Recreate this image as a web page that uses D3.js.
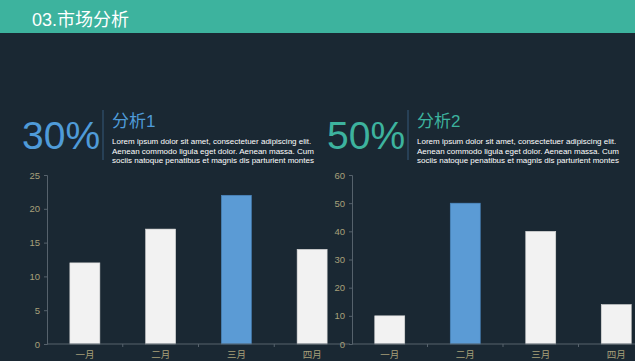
<!DOCTYPE html>
<html>
<head>
<meta charset="utf-8">
<script src="https://cdn.jsdelivr.net/npm/d3@7"></script>
<style>
  body { margin: 0; background: #1a2833; }
  svg { display: block; font-family: Arial, "Liberation Sans", "Noto Sans CJK SC", sans-serif; }
</style>
</head>
<body>
<div id="chart"></div>
<script>
"use strict";

var months = ["一月", "二月", "三月", "四月"];
var values1 = [12, 17, 22, 14];
var values2 = [10, 50, 40, 14];
var ticks1 = [0, 5, 10, 15, 20, 25];
var ticks2 = [0, 10, 20, 30, 40, 50, 60];
var highlight1 = "三月";
var highlight2 = "二月";
var lorem = [
    "Lorem ipsum dolor sit amet, consectetuer adipiscing elit.",
    "Aenean commodo ligula eget dolor. Aenean massa. Cum",
    "sociis natoque penatibus et magnis dis parturient montes"
];

var W = 635, H = 361;
var svg = d3.select("#chart").append("svg")
    .attr("width", W).attr("height", H);

svg.append("rect").attr("width", W).attr("height", H).attr("fill", "#1a2833");
svg.append("rect").attr("width", W).attr("height", 33).attr("fill", "#3db39e");
svg.append("text")
    .attr("x", 32).attr("y", 26)
    .attr("fill", "#ffffff")
    .style("font-size", "18px")
    .text("03.市场分析");

function header(x0, pct, title, color) {
    var g = svg.append("g");
    g.append("text")
        .attr("x", x0).attr("y", 149)
        .attr("fill", color)
        .style("font-size", "39px")
        .text(pct);
    g.append("line")
        .attr("x1", x0 + 81).attr("x2", x0 + 81)
        .attr("y1", 110).attr("y2", 160)
        .attr("stroke", "#34597a").attr("stroke-width", 1);
    g.append("text")
        .attr("x", x0 + 90).attr("y", 127)
        .attr("fill", color)
        .style("font-size", "17px")
        .text(title);
    g.selectAll("text.p").data(lorem).enter().append("text")
        .attr("class", "p")
        .attr("x", x0 + 90)
        .attr("y", function (d, i) { return 144 + i * 9.7; })
        .attr("fill", "#ffffff")
        .style("font-size", "8px")
        .text(function (d) { return d; });
}

header(22, "30%", "分析1", "#4f9bd9");
header(327, "50%", "分析2", "#3db39e");

function barChart(left, right, values, ticks, hl) {
    var top = 175, bottom = 344;
    var xb = d3.scaleBand().domain(months).range([left, right]);
    var y = d3.scaleLinear().domain([0, d3.max(ticks)]).range([bottom, top]);
    var g = svg.append("g");

    g.selectAll("rect.bar").data(values).enter().append("rect")
        .attr("x", function (d, i) { return xb(months[i]) + (xb.bandwidth() - 30) / 2; })
        .attr("width", 30)
        .attr("y", function (d) { return y(d); })
        .attr("height", function (d) { return bottom - y(d); })
        .attr("fill", function (d, i) { return months[i] === hl ? "#5b9bd5" : "#f2f2f2"; })
        .attr("stroke", function (d, i) { return months[i] === hl ? "#4a86bd" : "#d8d8d8"; })
        .attr("stroke-width", 0.6);

    var ya = g.append("g")
        .attr("transform", "translate(" + left + ",0)")
        .call(d3.axisLeft(y).tickValues(ticks).tickSize(3).tickPadding(4));
    var xa = g.append("g")
        .attr("transform", "translate(0," + bottom + ")")
        .call(d3.axisBottom(xb).tickSize(0).tickPadding(7));
    // band boundary ticks
    g.selectAll("line.sep").data(months.slice(1)).enter().append("line")
        .attr("x1", function (d) { return xb(d); })
        .attr("x2", function (d) { return xb(d); })
        .attr("y1", bottom).attr("y2", bottom + 3)
        .attr("stroke", "#56626c");

    [ya, xa].forEach(function (a) {
        a.select(".domain").attr("stroke", "#56626c");
        a.selectAll(".tick line").attr("stroke", "#56626c");
        a.selectAll("text")
            .attr("fill", "#a8a07a")
            .style("font-size", "9.5px")
            .style("font-family", "Arial, 'Liberation Sans', 'Noto Sans CJK SC', sans-serif");
    });
    xa.select(".domain").attr("d", "M" + left + ",0H" + right);
}

barChart(47, 350, values1, ticks1, highlight1);
barChart(352, 654, values2, ticks2, highlight2);
</script>
</body>
</html>
